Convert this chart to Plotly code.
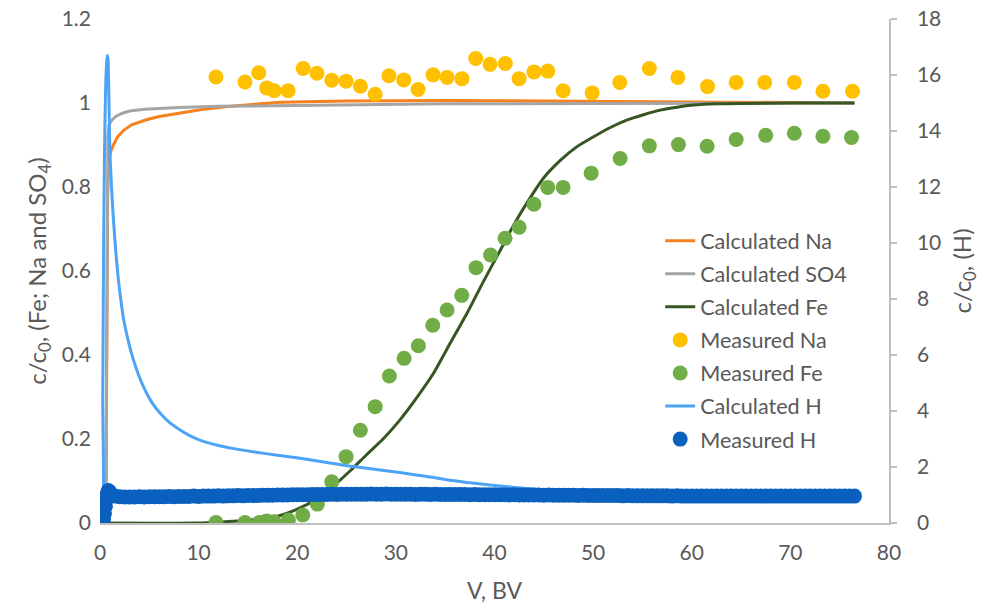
import plotly.graph_objects as go

# ---------------- data ----------------
# Calculated Na (left axis)
calc_na_x = [0, 0.6, 0.66, 0.72, 0.78, 0.85, 0.95, 1.1, 1.35, 1.8, 2.4, 3.2, 4.7, 6.0, 8.1,
             10.5, 13.2, 16.0, 18.3, 25, 35, 45, 55, 65, 76.5]
calc_na_y = [0, 0, 0.3, 0.6, 0.78, 0.84, 0.87, 0.885, 0.9, 0.92, 0.935, 0.948, 0.96, 0.968, 0.976,
             0.985, 0.992, 0.998, 1.002, 1.005, 1.006, 1.005, 1.003, 1.001, 1.0]

# Calculated SO4 (left axis)
calc_so4_x = [0, 0.6, 0.66, 0.72, 0.8, 0.9, 1.0, 1.2, 1.6, 2.2, 3.0, 4.5, 6.0, 8.0, 12, 18, 25, 35,
              50, 76.5]
calc_so4_y = [0, 0, 0.35, 0.75, 0.92, 0.945, 0.952, 0.959, 0.968, 0.975, 0.981, 0.985, 0.987, 0.989,
              0.992, 0.994, 0.996, 0.998, 0.999, 1.0]

# Calculated Fe (left axis)
calc_fe_x = [0, 10, 12, 14, 16, 18, 20, 22, 24, 25.4, 27, 28.7, 30.4, 32.1, 33.8, 35.5, 37.2, 38.9,
             40.6, 42.0, 43.5, 45.0, 46.7, 48.3, 50, 51.7, 53.4, 55.1, 56.8, 58.5, 60.2, 62.5, 65,
             70, 76.5]
calc_fe_y = [0, 0, 0.002, 0.005, 0.009, 0.016, 0.033, 0.058, 0.095, 0.125, 0.162, 0.2, 0.245,
             0.298, 0.356, 0.428, 0.499, 0.576, 0.65, 0.712, 0.77, 0.822, 0.864, 0.895, 0.919,
             0.941, 0.959, 0.972, 0.983, 0.99, 0.995, 0.998, 0.999, 1.0, 1.0]

# Measured Na (left axis)
meas_na_x = [11.76, 14.7, 16.1, 16.9, 17.65, 19.07, 20.6, 22.0, 23.5, 24.95, 26.4, 27.9, 29.3,
             30.8, 32.25, 33.77, 35.2, 36.7, 38.1, 39.55, 41.1, 42.5, 44.0, 45.4, 46.96, 49.9,
             52.7, 55.7, 58.6, 61.6, 64.5, 67.4, 70.4, 73.3, 76.3]
meas_na_y = [1.062, 1.05, 1.072, 1.036, 1.029, 1.029, 1.082, 1.071, 1.054, 1.052, 1.04, 1.021,
             1.065, 1.055, 1.032, 1.067, 1.061, 1.058, 1.106, 1.092, 1.094, 1.058, 1.074, 1.076,
             1.029, 1.024, 1.049, 1.082, 1.061, 1.039, 1.049, 1.049, 1.049, 1.028, 1.028]

# Measured Fe (left axis)
meas_fe_x = [11.76, 14.7, 16.16, 16.9, 17.65, 19.1, 20.56, 22.04, 23.5, 24.95, 26.4, 27.9, 29.34,
             30.83, 32.28, 33.74, 35.19, 36.68, 38.13, 39.6, 41.07, 42.5, 44.0, 45.4, 46.96,
             49.8, 52.74, 55.7, 58.65, 61.56, 64.5, 67.5, 70.4, 73.3, 76.2]
meas_fe_y = [0.001, 0.001, 0.001, 0.005, 0.003, 0.007, 0.019, 0.045, 0.098, 0.158, 0.221, 0.277,
             0.35, 0.392, 0.422, 0.471, 0.507, 0.542, 0.608, 0.638, 0.678, 0.704, 0.759, 0.799,
             0.799, 0.833, 0.868, 0.898, 0.901, 0.897, 0.913, 0.923, 0.928, 0.921, 0.918]

# Calculated H (right axis)
calc_h_x = [0, 0.2, 0.28, 0.36, 0.45, 0.55, 0.65, 0.73, 0.8, 0.87, 0.93, 1.0, 1.1, 1.2, 1.35, 1.6,
            1.86, 2.1, 2.36, 2.8, 3.2, 3.6, 4.06, 4.5, 4.9, 5.5, 6.2, 7.0, 8.0, 9.0, 10.0, 11.0,
            12.0, 14.0, 16.0, 18.0, 20.3, 22.5, 25.4, 28.0, 30.4, 33.0, 35.5, 38.0, 40.6, 43.0,
            45.5, 48.0, 51.0, 55.0, 60.0, 66.0, 72.0, 76.5]
calc_h_y = [0, 0, 4.5, 9.5, 13.0, 15.2, 16.3, 16.7, 16.6, 15.8, 14.6, 13.3, 12.5, 11.8, 10.9, 9.7,
            8.7, 8.0, 7.35, 6.6, 6.05, 5.6, 5.15, 4.8, 4.52, 4.18, 3.88, 3.6, 3.35, 3.14, 2.98,
            2.86, 2.77, 2.63, 2.52, 2.42, 2.31, 2.19, 2.03, 1.91, 1.8, 1.67, 1.53, 1.42, 1.32,
            1.24, 1.17, 1.12, 1.07, 1.03, 1.01, 1.0, 1.0, 1.0]

# Measured H (right axis)
meas_h_x = [0.27, 0.35, 0.45, 0.55, 0.65, 0.75, 0.85, 0.95,
            1.0, 1.5, 2.0, 2.5, 3.0, 3.5, 4.0, 4.5, 5.0, 5.5,
            6.0, 6.5, 7.0, 7.5, 8.0, 8.5, 9.0, 9.5, 10.0, 10.5,
            11.0, 11.5, 12.0, 12.5, 13.0, 13.5, 14.0, 14.5, 15.0, 15.5,
            16.0, 16.5, 17.0, 17.5, 18.0, 18.5, 19.0, 19.5, 20.0, 20.5,
            21.0, 21.5, 22.0, 22.5, 23.0, 23.5, 24.0, 24.5, 25.0, 25.5,
            26.0, 26.5, 27.0, 27.5, 28.0, 28.5, 29.0, 29.5, 30.0, 30.5,
            31.0, 31.5, 32.0, 32.5, 33.0, 33.5, 34.0, 34.5, 35.0, 35.5,
            36.0, 36.5, 37.0, 37.5, 38.0, 38.5, 39.0, 39.5, 40.0, 40.5,
            41.0, 41.5, 42.0, 42.5, 43.0, 43.5, 44.0, 44.5, 45.0, 45.5,
            46.0, 46.5, 47.0, 47.5, 48.0, 48.5, 49.0, 49.5, 50.0, 50.5,
            51.0, 51.5, 52.0, 52.5, 53.0, 53.5, 54.0, 54.5, 55.0, 55.5,
            56.0, 56.5, 57.0, 57.5, 58.0, 58.5, 59.0, 59.5, 60.0, 60.5,
            61.0, 61.5, 62.0, 62.5, 63.0, 63.5, 64.0, 64.5, 65.0, 65.5,
            66.0, 66.5, 67.0, 67.5, 68.0, 68.5, 69.0, 69.5, 70.0, 70.5,
            71.0, 71.5, 72.0, 72.5, 73.0, 73.5, 74.0, 74.5, 75.0, 75.5,
            76.0, 76.5]
meas_h_y = [0, 0.12, 0.35, 0.6, 0.85, 1.05, 1.16, 1.12,
            1.02, 0.96, 0.94, 0.93, 0.93, 0.93, 0.94, 0.93, 0.94, 0.94,
            0.94, 0.94, 0.95, 0.94, 0.95, 0.95, 0.95, 0.96, 0.95, 0.96,
            0.96, 0.96, 0.97, 0.96, 0.97, 0.97, 0.98, 0.97, 0.98, 0.98,
            0.98, 0.99, 0.99, 0.99, 1.0, 1.0, 1.0, 1.01, 1.01, 1.01,
            1.01, 1.02, 1.02, 1.02, 1.02, 1.03, 1.02, 1.03, 1.03, 1.03,
            1.03, 1.03, 1.03, 1.04, 1.03, 1.03, 1.04, 1.03, 1.03, 1.03,
            1.03, 1.03, 1.02, 1.03, 1.03, 1.02, 1.03, 1.02, 1.02, 1.02,
            1.02, 1.02, 1.02, 1.01, 1.02, 1.01, 1.01, 1.01, 1.01, 1.01,
            1.01, 1.0, 1.01, 1.0, 1.0, 1.0, 1.0, 1.0, 0.99, 1.0,
            0.99, 0.99, 0.99, 0.99, 0.99, 0.98, 0.99, 0.98, 0.98, 0.98,
            0.98, 0.98, 0.98, 0.98, 0.97, 0.98, 0.97, 0.97, 0.97, 0.97,
            0.97, 0.97, 0.97, 0.97, 0.96, 0.97, 0.96, 0.96, 0.96, 0.96,
            0.96, 0.96, 0.96, 0.96, 0.96, 0.96, 0.96, 0.96, 0.96, 0.96,
            0.96, 0.96, 0.96, 0.96, 0.96, 0.96, 0.96, 0.96, 0.96, 0.96,
            0.96, 0.96, 0.96, 0.96, 0.96, 0.96, 0.96, 0.96, 0.96, 0.96,
            0.96, 0.96]

x_ticks = [0, 10, 20, 30, 40, 50, 60, 70, 80]
y1_ticks = [0, 0.2, 0.4, 0.6, 0.8, 1.0, 1.2]
y2_ticks = [0, 2, 4, 6, 8, 10, 12, 14, 16, 18]

# ---------------- figure ----------------
TXT = '#595959'
AXC = '#BFBFBF'
FONT = 'Lato'
MS = 15

fig = go.Figure()
fig.add_trace(go.Scatter(x=calc_na_x, y=calc_na_y, mode='lines', name='Calculated Na',
                         line=dict(color='#F5821F', width=3), legendgroup='a'))
fig.add_trace(go.Scatter(x=calc_so4_x, y=calc_so4_y, mode='lines', name='Calculated SO4',
                         line=dict(color='#A5A5A5', width=3), legendgroup='b'))
fig.add_trace(go.Scatter(x=calc_fe_x, y=calc_fe_y, mode='lines', name='Calculated Fe',
                         line=dict(color='#375623', width=3, shape='spline', smoothing=0.6),
                         legendgroup='c'))
fig.add_trace(go.Scatter(x=meas_na_x, y=meas_na_y, mode='markers', name='Measured Na',
                         marker=dict(color='#FFC000', size=MS), legendgroup='d'))
fig.add_trace(go.Scatter(x=meas_fe_x, y=meas_fe_y, mode='markers', name='Measured Fe',
                         marker=dict(color='#70AD47', size=MS), legendgroup='e'))
fig.add_trace(go.Scatter(x=calc_h_x, y=calc_h_y, mode='lines', name='Calculated H',
                         line=dict(color='#4DA3F5', width=3, shape='spline', smoothing=0.7),
                         yaxis='y2', legendgroup='f'))
fig.add_trace(go.Scatter(x=meas_h_x, y=meas_h_y, mode='markers', name='Measured H',
                         marker=dict(color='#0A60BE', size=MS), yaxis='y2', legendgroup='g'))

fig.update_layout(
    width=987, height=610,
    margin=dict(l=100, r=98, t=19, b=87, autoexpand=False),
    plot_bgcolor='white', paper_bgcolor='white',
    font=dict(family=FONT, size=21, color=TXT),
    showlegend=True,
    xaxis=dict(range=[0, 80], tickvals=x_ticks, showgrid=False, zeroline=False,
               showline=True, linecolor=AXC, linewidth=1.5, ticks='', automargin=False,
               ticklabelstandoff=10,
               title=dict(text='V, BV', font=dict(size=23, color=TXT), standoff=20)),
    yaxis=dict(range=[0, 1.2], tickvals=y1_ticks, showgrid=False, zeroline=False,
               showline=False, ticks='', ticklabelstandoff=8, automargin=False,
               title=dict(text='c/c<sub>0</sub>, (Fe; Na and SO<sub>4</sub>)',
                          font=dict(size=24, color=TXT), standoff=8)),
    yaxis2=dict(range=[0, 18], tickvals=y2_ticks, overlaying='y', side='right',
                showgrid=False, zeroline=False, showline=True, linecolor=AXC, linewidth=1.5,
                ticks='outside', ticklen=6, tickcolor=AXC, tickwidth=1.5, ticklabelstandoff=16,
                automargin=False,
                title=dict(text='c/c<sub>0</sub>, (H)', font=dict(size=24, color=TXT), standoff=14)),
    legend=dict(x=0.71, y=0.601, xanchor='left', yanchor='top', bgcolor='rgba(0,0,0,0)',
                font=dict(size=21.6, color=TXT), tracegroupgap=2),
)

fig.write_html('out.html', include_plotlyjs=True, config={'displayModeBar': False})
